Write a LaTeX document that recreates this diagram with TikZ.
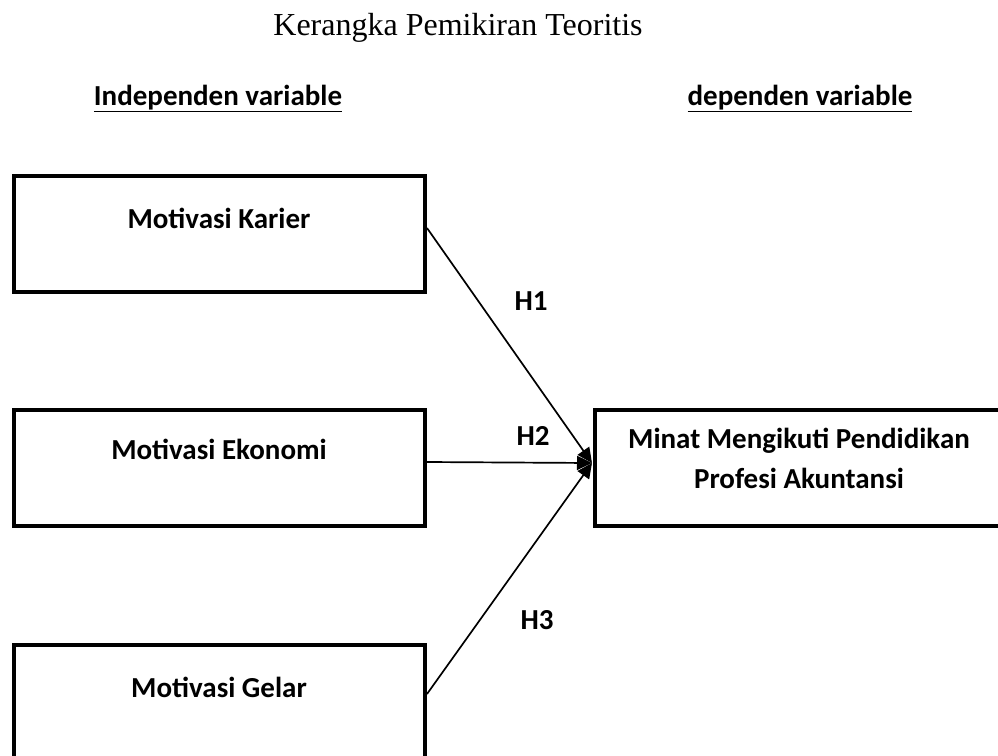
\documentclass[tikz,border=0pt]{standalone}
\usepackage{fontspec}
\setmainfont{Liberation Serif}
\newfontfamily\calfont{Carlito}
\usetikzlibrary{arrows.meta}
\begin{document}
\begin{tikzpicture}[x=1pt,y=-1pt,
  vbox/.style={draw,line width=4pt,inner sep=0pt,anchor=north west},
  btxt/.style={font=\calfont\bfseries\fontsize{29}{34}\selectfont,anchor=base,inner sep=0pt},
  conn/.style={line width=1.7pt,-{Triangle[length=15pt,width=14pt]}}]
\useasboundingbox (0,0) rectangle (998,755);
\clip (0,0) rectangle (998,755);
\node[font=\fontsize{32}{36}\selectfont,anchor=base,inner sep=0pt] (title) at (458,35) {Kerangka Pemikiran Teoritis};
\node[btxt] (ind) at (218,105) {\underline{Independen variable}};
\node[btxt] (dep) at (800,105) {\underline{dependen variable}};
\node[vbox,minimum width=411pt,minimum height=116pt] (k) at (12,174) {};
\node[vbox,minimum width=411pt,minimum height=116pt] (e) at (12,408) {};
\node[vbox,minimum width=411pt,minimum height=140pt] (g) at (12,643) {};
\node[vbox,minimum width=420pt,minimum height=116pt] (m) at (593,408) {};
\node[btxt] (kt) at (219,228) {Motivasi Karier};
\node[btxt] (et) at (219,459) {Motivasi Ekonomi};
\node[btxt] (gt) at (219,697) {Motivasi Gelar};
\node[btxt] (mt1) at (799,448) {Minat Mengikuti Pendidikan};
\node[btxt] (mt2) at (799,488) {Profesi Akuntansi};
\coordinate (tgt) at (592,463);
\draw[conn] (k.east |- 0,228) -- (tgt);
\draw[conn] (e.east |- 0,462) -- (tgt);
\draw[conn] (g.east |- 0,694) -- (tgt);
\node[btxt] (h1) at (531,310) {H1};
\node[btxt] (h2) at (533,445) {H2};
\node[btxt] (h3) at (537,629) {H3};
\end{tikzpicture}
\end{document}
